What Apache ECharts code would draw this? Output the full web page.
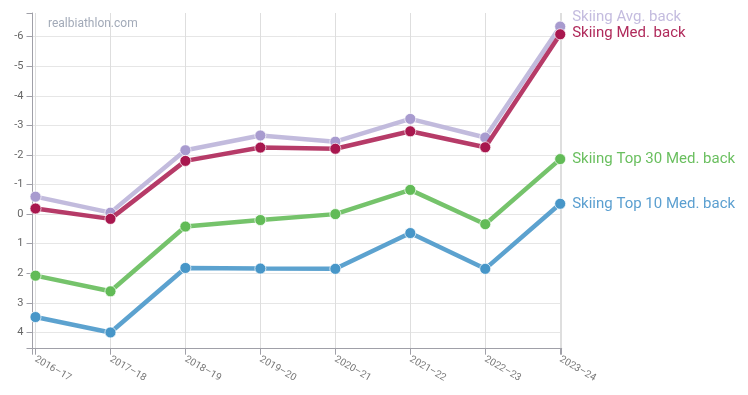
<!DOCTYPE html>
<html><head><meta charset="utf-8">
<script src="https://cdn.jsdelivr.net/npm/echarts@6/dist/echarts.min.js"></script>
<style>html,body{margin:0;padding:0;background:#fff}#c{width:748px;height:395px}</style>
</head><body><div id="c"></div>
<script>
var seasons = ['2016–17','2017–18','2018–19','2019–20','2020–21','2021–22','2022–23','2023–24'];
var avgBack   = [-0.59, -0.05, -2.16, -2.66, -2.45, -3.22, -2.59, -6.34];
var medBack   = [-0.19,  0.16, -1.80, -2.25, -2.21, -2.80, -2.26, -6.08];
var top30Back = [ 2.08,  2.61,  0.42,  0.20,  0.00, -0.82,  0.34, -1.86];
var top10Back = [ 3.48,  4.00,  1.82,  1.84,  1.85,  0.64,  1.85, -0.35];
var yTicks = [-6,-5,-4,-3,-2,-1,0,1,2,3,4];
var seriesNames = ['Skiing Avg. back','Skiing Med. back','Skiing Top 30 Med. back','Skiing Top 10 Med. back'];

function pairs(arr){ return arr.map(function(v,i){ return [i, v]; }); }
var xIdx = seasons.map(function(s,i){ return i; });
var xMin = -0.04, xMax = 7.02, yMin = -6.8, yMax = 4.55;
var yTickAll = [yMin].concat(yTicks).concat([yMax]);
var ySplitColors = yTickAll.map(function(v,i){ return (i === 0) ? 'rgba(0,0,0,0)' : '#e6e6e6'; });

function mk(name, data, lineColor, markerColor, labelColor, z, offset){
  return {
    name: name, type: 'line', data: pairs(data), z: z,
    symbol: 'circle', symbolSize: 11,
    lineStyle: { color: lineColor, width: 4.5, opacity: 0.92 },
    itemStyle: { color: markerColor, borderColor: 'rgba(255,255,255,0.7)', borderWidth: 1 },
    emphasis: { disabled: true },
    endLabel: { show: true, formatter: name, color: labelColor, fontSize: 15,
      fontFamily: 'Roboto', distance: 12, offset: offset }
  };
}

var chart = echarts.init(document.getElementById('c'), null, {renderer:'canvas'});
chart.setOption({
  animation: false,
  backgroundColor: '#fff',
  textStyle: { fontFamily: 'Roboto' },
  grid: { left: 32.5, right: 186.3, top: 13, bottom: 46.3, containLabel: false },
  graphic: [{ type: 'text', left: 48, top: 18, z: 10, style: { text: 'realbiathlon.com', fill: '#a2aab8', font: '12px Roboto' } }],
  xAxis: {
    type: 'value', min: xMin, max: xMax,
    axisLine: { show: true, onZero: false, lineStyle: { color: '#a0a0a8', width: 1 } },
    axisTick: { show: true, length: 6, lineStyle: { color: '#a0a0a8' }, customValues: [xMin].concat(xIdx).concat([xMax]) },
    axisLabel: { customValues: xIdx, rotate: -30, fontSize: 10, color: '#777', margin: 10,
      formatter: function(v){ return seasons[Math.round(v)]; } },
    splitLine: { show: true, lineStyle: { color: '#dedede', width: 1 } }
  },
  yAxis: {
    type: 'value', inverse: true, min: yMin, max: yMax,
    axisLine: { show: true, onZero: false, lineStyle: { color: '#a0a0a8', width: 1 } },
    axisTick: { show: true, length: 6, lineStyle: { color: '#a0a0a8' }, customValues: yTickAll },
    axisLabel: { customValues: yTicks, fontSize: 11, color: '#666', margin: 9 },
    splitLine: { show: true, lineStyle: { color: ySplitColors, width: 1 } }
  },
  series: [
    mk(seriesNames[3], top10Back, '#4e9acb', '#4796c8', '#5b9fd0', 2, [0, 0]),
    mk(seriesNames[2], top30Back, '#69be5e', '#62bb57', '#6abf5f', 3, [0, 0]),
    mk(seriesNames[0], avgBack, '#bdb5da', '#a89bcf', '#c4bcdf', 4, [0, -9]),
    mk(seriesNames[1], medBack, '#b02a5b', '#a8174e', '#b02a5b', 5, [0, -1])
  ]
});
</script></body></html>
